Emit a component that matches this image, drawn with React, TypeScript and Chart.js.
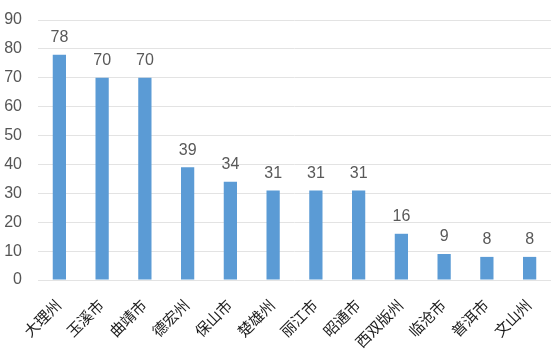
import React, { useEffect, useRef } from "react";
import { Chart, registerables } from "chart.js";

Chart.register(...registerables);

const categories = ["大理州", "玉溪市", "曲靖市", "德宏州", "保山市", "楚雄州", "丽江市", "昭通市", "西双版州", "临沧市", "普洱市", "文山州"];
const values = [78, 70, 70, 39, 34, 31, 31, 31, 16, 9, 8, 8];
const yMin = 0;
const yMax = 90;
const yStep = 10;

const FONT = "'Liberation Sans', 'Noto Sans CJK SC', sans-serif";

const dataLabelPlugin = {
  id: "dataLabels",
  afterDatasetsDraw(chart: any) {
    const ctx = chart.ctx;
    const meta = chart.getDatasetMeta(0);
    ctx.save();
    ctx.font = `16px ${FONT}`;
    ctx.fillStyle = "#595959";
    ctx.textAlign = "center";
    ctx.textBaseline = "bottom";
    meta.data.forEach((el: any, i: number) => {
      ctx.fillText(String(values[i]), el.x, el.y - 9);
    });
    ctx.restore();
  },
};

export default function App() {
  const ref = useRef<HTMLCanvasElement>(null);
  useEffect(() => {
    document.body.style.margin = "0";
    const chart = new Chart(ref.current!, {
      type: "bar",
      data: {
        labels: categories,
        datasets: [
          {
            data: values,
            backgroundColor: "#5b9bd5",
            categoryPercentage: 1,
            barPercentage: 0.31,
          },
        ],
      },
      options: {
        animation: false,
        responsive: false,
        maintainAspectRatio: false,
        layout: { padding: { top: 20, right: 9, left: 0, bottom: 0 } },
        plugins: { legend: { display: false }, tooltip: { enabled: false } },
        scales: {
          x: {
            grid: { display: false },
            border: { display: false },
            ticks: {
              color: "#1a1a1a",
              font: { size: 15, family: FONT },
              minRotation: 45,
              maxRotation: 45,
              padding: 9,
              autoSkip: false,
            },
            afterFit(scale: any) {
              scale.height = 73;
              scale.paddingLeft = 0;
              scale.paddingRight = 0;
            },
          },
          y: {
            min: yMin,
            max: yMax,
            border: { display: false },
            grid: { color: "#e3e3e3", lineWidth: 1, drawTicks: false },
            ticks: {
              stepSize: yStep,
              color: "#555",
              font: { size: 16, family: FONT },
              padding: 16,
            },
            afterFit(scale: any) {
              scale.width = 38;
              scale.paddingTop = 0;
              scale.paddingBottom = 0;
            },
          },
        },
      },
      plugins: [dataLabelPlugin],
    });
    return () => chart.destroy();
  }, []);
  return (
    <div style={{ width: 560, height: 353, background: "#fff" }}>
      <canvas ref={ref} width={560} height={353} />
    </div>
  );
}
